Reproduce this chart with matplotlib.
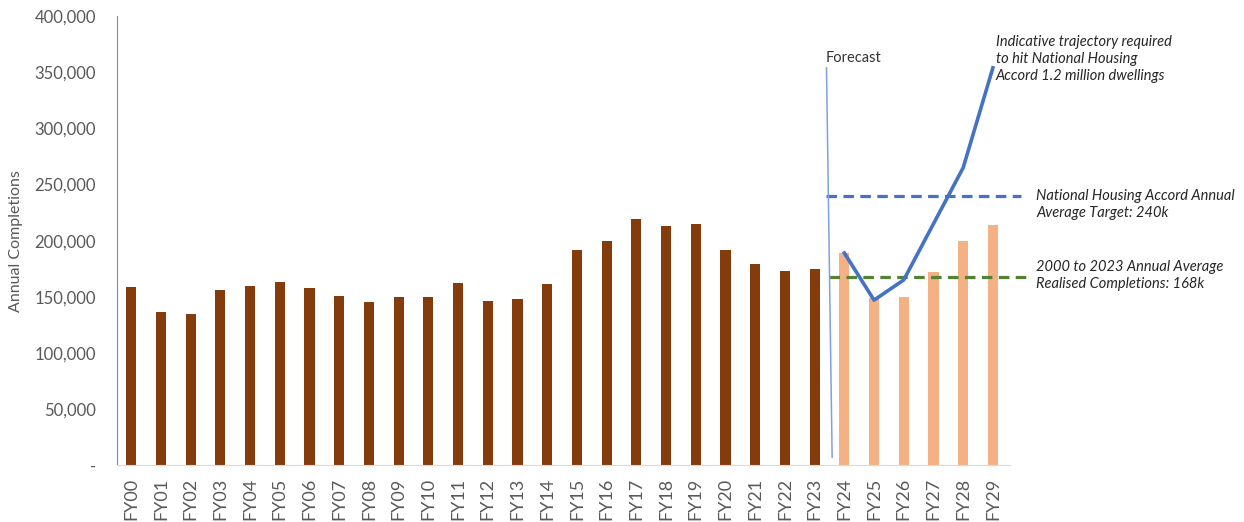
import matplotlib.pyplot as plt
from matplotlib.ticker import FuncFormatter

plt.rcParams['font.family'] = ['Lato', 'DejaVu Sans']

years = ['FY%02d' % i for i in range(30)]
actual = [159000, 136000, 135000, 156000, 160000, 163000, 158000, 151000,
          145000, 150000, 150000, 162000, 146000, 148000, 161000, 192000,
          200000, 219000, 213000, 215000, 192000, 179000, 173000, 175000]
forecast = [189000, 149000, 150000, 172000, 200000, 214000]
trajectory = [189000, 147000, 165000, 215000, 265000, 354000]
accord_target = 240000
realised_avg = 168000

n_act = len(actual)
x_act = list(range(n_act))
x_fc = list(range(n_act, n_act + len(forecast)))

fig = plt.figure(figsize=(12.44, 5.22), dpi=100)
ax = fig.add_axes([0.094, 0.109, 0.718, 0.860])

ax.bar(x_act, actual, width=0.34, color='#843C0C', zorder=2)
ax.bar(x_fc, forecast, width=0.34, color='#F4B183', zorder=2)
ax.plot(x_fc, trajectory, color='#4472C4', lw=2.6, zorder=4)

# reference lines for the accord target and historical average
ax.plot([23.4, 29.95], [accord_target] * 2, color='#4472C4', lw=2.3,
        dashes=(3.3, 2.0), clip_on=False, zorder=3)
ax.plot([23.5, 30.1], [realised_avg] * 2, color='#548235', lw=2.3,
        dashes=(3.3, 2.0), clip_on=False, zorder=3)

# forecast divider
ax.plot([23.4, 23.59], [354000, 7000], color='#7FA1DC', lw=1.1, zorder=3)
ax.text(23.38, 363000, 'Forecast', fontsize=10.5, color='#333333',
        ha='left', va='center')

note_kw = dict(fontsize=10.5, style='italic', color='#262626', ha='left',
               va='center', linespacing=1.25, clip_on=False)
ax.text(29.1, 362000, 'Indicative trajectory required\nto hit National Housing\n'
        'Accord 1.2 million dwellings', **note_kw)
ax.text(30.45, 232000, 'National Housing Accord Annual\nAverage Target: 240k',
        **note_kw)
ax.text(30.45, 169000, '2000 to 2023 Annual Average\nRealised Completions: 168k',
        **note_kw)

ax.set_xlim(-0.48, 29.58)
ax.set_ylim(0, 400000)
ax.set_yticks(range(0, 400001, 50000))
ax.yaxis.set_major_formatter(FuncFormatter(
    lambda v, p: '-' if v == 0 else '{:,.0f}'.format(v)))
ax.set_xticks(range(len(years)))
ax.set_xticklabels(years, rotation=90)
ax.tick_params(axis='y', length=0, labelsize=12, labelcolor='#595959', pad=15)
ax.tick_params(axis='x', length=0, labelsize=13, labelcolor='#595959', pad=9)
ax.set_ylabel('Annual Completions', fontsize=11.5, color='#595959', labelpad=8)

for s in ['top', 'right']:
    ax.spines[s].set_visible(False)
ax.spines['left'].set_color('#8c8c8c')
ax.spines['bottom'].set_color('#d9d9d9')

fig.savefig('out.png', dpi=100)
